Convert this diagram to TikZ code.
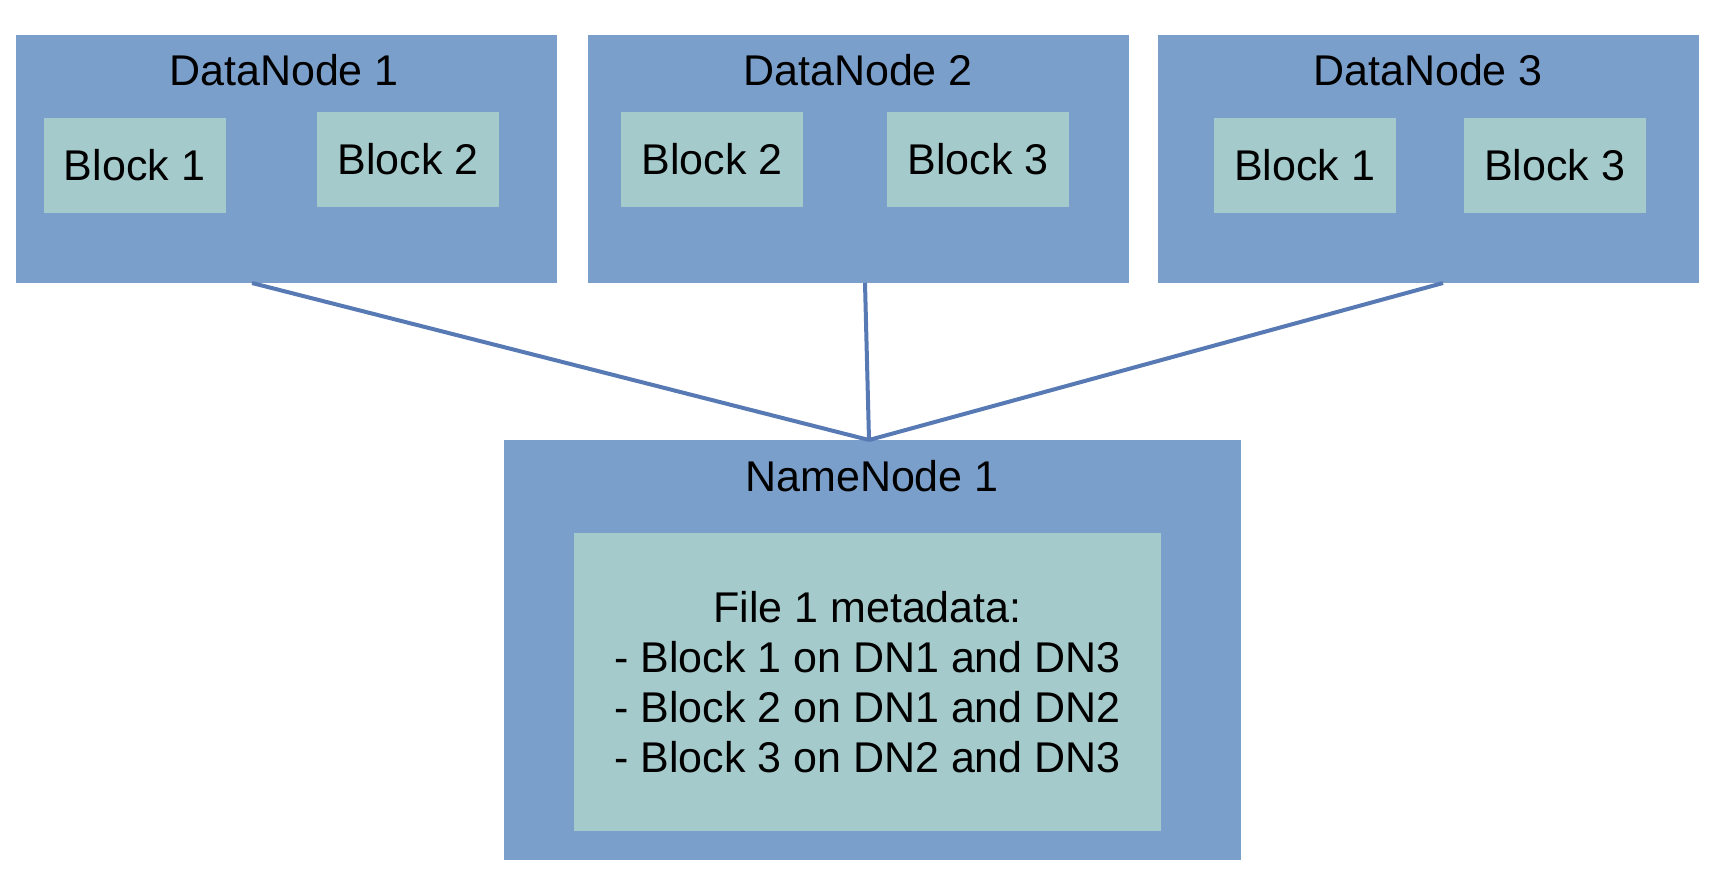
\documentclass[tikz,border=0pt]{standalone}
\usepackage{fontspec}
\setmainfont{Liberation Sans}
\usetikzlibrary{calc}
\definecolor{nodeblue}{RGB}{123,159,203}
\definecolor{blockgreen}{RGB}{165,202,203}
\definecolor{linkblue}{RGB}{88,122,180}

\begin{document}
\begin{tikzpicture}[x=0.5pt,y=-0.5pt,
  every node/.style={inner sep=0pt,outer sep=0pt,font=\fontsize{21.5}{25}\selectfont},
  databox/.style={rectangle,fill=nodeblue,minimum width=270.5pt,minimum height=124pt},
  blockbox/.style={rectangle,fill=blockgreen,minimum width=91pt,minimum height=47.5pt},
  namebox/.style={rectangle,fill=nodeblue,minimum width=368.5pt,minimum height=210pt},
  metabox/.style={rectangle,fill=blockgreen,minimum width=293.5pt,minimum height=149pt,align=center},
  link/.style={draw=linkblue,line width=2pt}]
  \useasboundingbox[fill=white] (0,0) rectangle (1712,882);
  % data nodes
  \node[databox] (dn1) at (286.5,159) {};
  \node[databox] (dn2) at (858.5,159) {};
  \node[databox] (dn3) at (1428.5,159) {};
  \node at (284,70) {DataNode 1};
  \node at (858,70) {DataNode 2};
  \node at (1428,70) {DataNode 3};
  % blocks
  \node[blockbox] (b11) at (134.5,165.5) {Block 1};
  \node[blockbox] (b12) at (408,159.5) {Block 2};
  \node[blockbox] (b22) at (712,159.5) {Block 2};
  \node[blockbox] (b23) at (978,159.5) {Block 3};
  \node[blockbox] (b31) at (1304.5,165.5) {Block 1};
  \node[blockbox] (b33) at (1554.5,165.5) {Block 3};
  % name node
  \node[namebox] (nn) at (872.5,650) {};
  \node at (872,476) {NameNode 1};
  \node[metabox] (meta) at (867.5,682) {File 1 metadata:\\- Block 1 on DN1 and DN3\\- Block 2 on DN1 and DN2\\- Block 3 on DN2 and DN3};
  % links
  \draw[link] ($(dn1.south)+(-34.5,0)$) -- ($(nn.north)+(-3.5,0)$);
  \draw[link] ($(dn2.south)+(6.5,0)$) -- ($(nn.north)+(-3.5,0)$);
  \draw[link] ($(dn3.south)+(14.5,0)$) -- ($(nn.north)+(-3.5,0)$);
\end{tikzpicture}
\end{document}
